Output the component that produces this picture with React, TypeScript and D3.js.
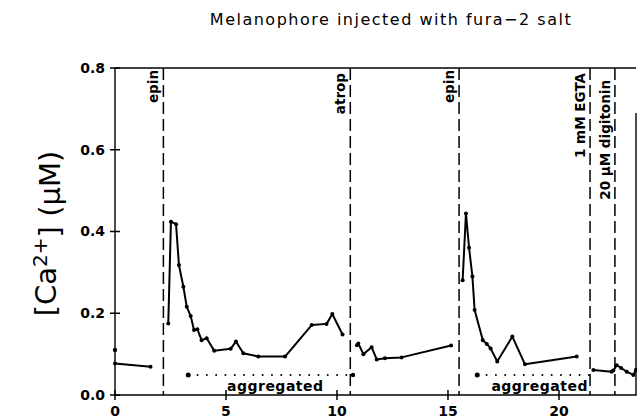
import React, { useEffect, useRef } from 'react';
import * as d3 from 'd3';

// [Ca2+] trace, in segments (time in min, conc in µM)
const segA: [number, number][] = [[0, 0.077], [1.6, 0.069]];
const segB: [number, number][] = [
  [2.40, 0.175], [2.52, 0.424], [2.75, 0.418], [2.88, 0.318], [3.08, 0.265],
  [3.23, 0.216], [3.41, 0.193], [3.56, 0.159], [3.71, 0.161], [3.90, 0.134],
  [4.13, 0.139], [4.47, 0.108], [5.21, 0.113], [5.45, 0.131], [5.78, 0.102],
  [6.46, 0.094], [7.66, 0.094], [8.86, 0.171], [9.53, 0.174], [9.79, 0.198],
  [10.25, 0.148],
];
const segC: [number, number][] = [
  [10.90, 0.122], [10.96, 0.126], [11.19, 0.100], [11.56, 0.117], [11.79, 0.087],
  [12.16, 0.090], [12.91, 0.092], [15.14, 0.121],
];
const segD: [number, number][] = [
  [15.66, 0.281], [15.81, 0.444], [15.95, 0.36], [16.1, 0.29], [16.2, 0.208],
  [16.57, 0.134], [16.75, 0.125], [16.92, 0.114], [17.22, 0.082], [17.9, 0.143],
  [18.47, 0.075], [20.8, 0.094],
];
const segE: [number, number][] = [
  [21.55, 0.061], [22.37, 0.057], [22.45, 0.060], [22.6, 0.073], [22.8, 0.066],
  [23.05, 0.057], [23.35, 0.049], [23.47, 0.062],
];
const loneDots: [number, number][] = [[0, 0.11], [10.72, 0.049]];

// additions (dashed verticals)
const eventTimes = [2.18, 10.6, 15.5, 21.4, 22.52];
const eventLabels = ['epin', 'atrop', 'epin', '1 mM EGTA', '20 \u00b5M digitonin'];
const eventLabelTop = [70, 73, 70, 73, 80];

// "aggregated" periods
const aggregated: [number, number][] = [[3.3, 10.6], [16.32, 21.4]];
const aggregatedLevel = 0.049;

const xTicks = [0, 5, 10, 15, 20];
const yTicks = [0, 0.2, 0.4, 0.6, 0.8];

const App = () => {
  const svgRef = useRef<SVGSVGElement | null>(null);

  useEffect(() => {
    if (!svgRef.current) return;
    const width = 637;
    const height = 419;
    const svg = d3.select(svgRef.current);
    svg.attr('width', width).attr('height', height);
    svg.selectAll('*').remove();

    const left = 115, right = 636, top = 68, bottom = 395;
    const x = d3.scaleLinear().domain([0, 23.47]).range([left, right]);
    const y = d3.scaleLinear().domain([0, 0.8]).range([bottom, top]);

    const font = 'DejaVu Sans';

    // title
    svg.append('text')
      .attr('x', 391).attr('y', 25)
      .attr('text-anchor', 'middle')
      .style('font-family', font).style('font-size', '16px')
      .style('letter-spacing', '1.5px')
      .text('Melanophore injected with fura\u22122 salt');

    // frame
    svg.append('path')
      .attr('d', `M${left},${bottom}V${top}H${right}`)
      .attr('fill', 'none').attr('stroke', '#000').attr('stroke-width', 1.4);
    svg.append('path')
      .attr('d', `M${right},${top + 45}V${bottom}H${left}`)
      .attr('fill', 'none').attr('stroke', '#000').attr('stroke-width', 1.4);

    // ticks
    yTicks.forEach(t => {
      svg.append('line')
        .attr('x1', left - 5).attr('x2', left + 5)
        .attr('y1', y(t)).attr('y2', y(t))
        .attr('stroke', '#000').attr('stroke-width', 1.5);
      svg.append('text')
        .attr('x', left - 10).attr('y', y(t)).attr('dy', '0.35em')
        .attr('text-anchor', 'end')
        .style('font-family', font).style('font-size', '14px').style('font-weight', 'bold')
        .text(t.toFixed(1));
    });
    xTicks.forEach(t => {
      svg.append('line')
        .attr('x1', x(t)).attr('x2', x(t))
        .attr('y1', bottom - 5).attr('y2', bottom + 5)
        .attr('stroke', '#000').attr('stroke-width', 1.5);
      svg.append('text')
        .attr('x', x(t)).attr('y', 416)
        .attr('text-anchor', 'middle')
        .style('font-family', font).style('font-size', '14px').style('font-weight', 'bold')
        .text(t);
    });

    // y label
    const yl = svg.append('text')
      .attr('transform', `translate(56, ${(top + bottom) / 2 + 2}) rotate(-90)`)
      .attr('text-anchor', 'middle')
      .style('font-family', font).style('font-size', '29px');
    yl.append('tspan').text('[Ca');
    yl.append('tspan').attr('dy', '-0.45em').style('font-size', '20px').text('2+');
    yl.append('tspan').attr('dy', '0.45em').text('] (\u00b5M)');

    // event lines and labels
    eventTimes.forEach((t, i) => {
      svg.append('line')
        .attr('x1', x(t)).attr('x2', x(t))
        .attr('y1', top).attr('y2', bottom)
        .attr('stroke', '#000').attr('stroke-width', 1.5)
        .attr('stroke-dasharray', '12,5');
      svg.append('text')
        .attr('transform', `translate(${x(t) - 5}, ${eventLabelTop[i]}) rotate(-90)`)
        .attr('text-anchor', 'end')
        .style('font-family', font).style('font-size', '13.5px').style('font-weight', 'bold')
        .text(eventLabels[i]);
    });

    // aggregated dotted lines
    aggregated.forEach(([a, b]) => {
      svg.append('line')
        .attr('x1', x(a)).attr('x2', x(b))
        .attr('y1', y(aggregatedLevel)).attr('y2', y(aggregatedLevel))
        .attr('stroke', '#000').attr('stroke-width', 2)
        .attr('stroke-linecap', 'round')
        .attr('stroke-dasharray', '0,9.3');
      svg.append('circle')
        .attr('cx', x(a)).attr('cy', y(aggregatedLevel)).attr('r', 2.5);
      svg.append('text')
        .attr('x', (x(a) + x(b)) / 2 + 6).attr('y', bottom - 4)
        .attr('text-anchor', 'middle')
        .style('font-family', font).style('font-size', '14px').style('font-weight', 'bold')
        .style('letter-spacing', '0.5px')
        .text('aggregated');
    });

    // trace
    const line = d3.line<[number, number]>().x(d => x(d[0])).y(d => y(d[1]));
    [segA, segB, segC, segD, segE].forEach(seg => {
      svg.append('path')
        .attr('d', line(seg))
        .attr('fill', 'none').attr('stroke', '#000').attr('stroke-width', 2)
        .attr('stroke-linejoin', 'round');
      seg.forEach(d => {
        svg.append('circle').attr('cx', x(d[0])).attr('cy', y(d[1])).attr('r', 2);
      });
    });
    loneDots.forEach(d => {
      svg.append('circle').attr('cx', x(d[0])).attr('cy', y(d[1])).attr('r', 2.2);
    });
  }, []);

  return (
    <svg ref={svgRef} style={{ position: 'absolute', left: 0, top: 0, background: '#fff' }}></svg>
  );
};

export default App;
